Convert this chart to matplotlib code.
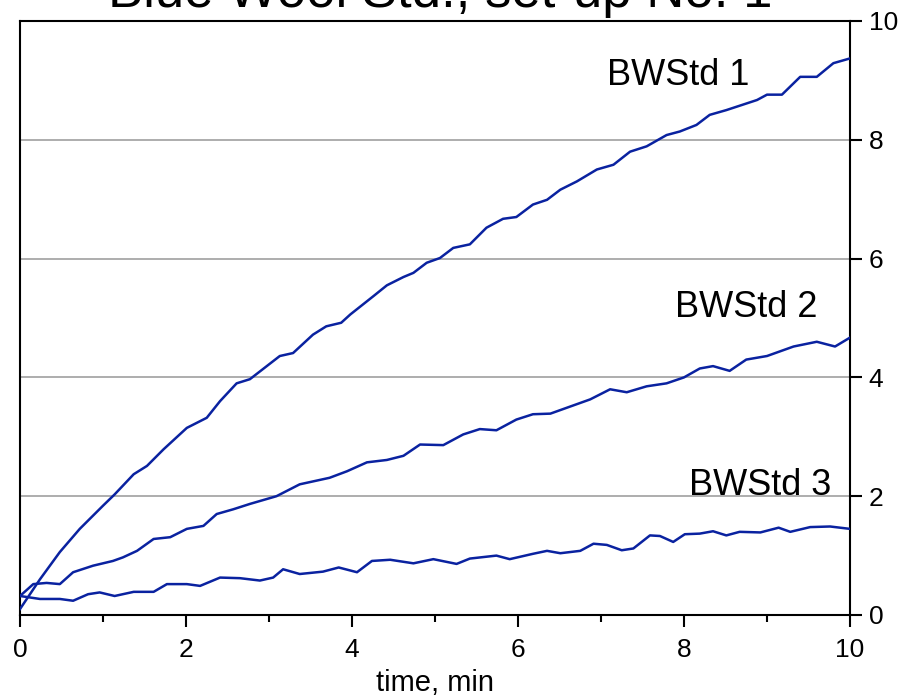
import matplotlib
matplotlib.use("Agg")
import matplotlib.pyplot as plt
from matplotlib.ticker import MultipleLocator

plt.rcParams['font.family'] = ['Liberation Sans', 'DejaVu Sans']

# data (time in min)
t1 = [0.0, 0.24, 0.48, 0.72, 1.0, 1.14, 1.37, 1.53, 1.73, 2.01, 2.25, 2.41, 2.61, 2.77,
      3.13, 3.29, 3.53, 3.69, 3.87, 3.98, 4.26, 4.42, 4.62, 4.74, 4.9, 5.06, 5.22, 5.42,
      5.62, 5.82, 5.98, 6.18, 6.35, 6.51, 6.71, 6.95, 7.15, 7.35, 7.55, 7.79, 7.95, 8.15,
      8.31, 8.51, 8.88, 9.0, 9.18, 9.4, 9.6, 9.8, 10.0]
bw1 = [0.1, 0.6, 1.06, 1.45, 1.84, 2.03, 2.37, 2.51, 2.79, 3.15, 3.32, 3.6, 3.9, 3.97,
       4.36, 4.41, 4.72, 4.86, 4.92, 5.06, 5.37, 5.55, 5.69, 5.76, 5.93, 6.01, 6.18, 6.24,
       6.52, 6.67, 6.7, 6.91, 6.99, 7.16, 7.3, 7.5, 7.58, 7.8, 7.89, 8.08, 8.14, 8.25,
       8.42, 8.5, 8.67, 8.76, 8.76, 9.06, 9.06, 9.29, 9.37]

t2 = [0.0, 0.16, 0.32, 0.48, 0.64, 0.88, 1.12, 1.24, 1.41, 1.61, 1.81, 2.01, 2.21, 2.37,
      2.57, 2.77, 3.09, 3.37, 3.73, 3.94, 4.18, 4.42, 4.62, 4.82, 5.1, 5.34, 5.54, 5.74,
      5.98, 6.18, 6.39, 6.59, 6.75, 6.87, 7.11, 7.31, 7.55, 7.79, 8.0, 8.19, 8.35, 8.55,
      8.75, 9.0, 9.32, 9.6, 9.82, 10.0]
bw2 = [0.32, 0.52, 0.54, 0.52, 0.72, 0.83, 0.91, 0.97, 1.08, 1.28, 1.31, 1.45, 1.5, 1.7,
       1.78, 1.87, 2.0, 2.2, 2.31, 2.42, 2.57, 2.61, 2.68, 2.87, 2.86, 3.04, 3.13, 3.11,
       3.29, 3.38, 3.39, 3.49, 3.57, 3.63, 3.8, 3.75, 3.85, 3.9, 4.0, 4.15, 4.19, 4.11,
       4.3, 4.36, 4.52, 4.6, 4.52, 4.67]

t3 = [0.0, 0.24, 0.48, 0.64, 0.82, 0.96, 1.14, 1.37, 1.61, 1.77, 2.01, 2.17, 2.41, 2.65,
      2.89, 3.05, 3.17, 3.37, 3.65, 3.84, 4.06, 4.24, 4.46, 4.74, 4.98, 5.26, 5.42, 5.74,
      5.9, 6.18, 6.35, 6.51, 6.75, 6.91, 7.07, 7.25, 7.39, 7.59, 7.71, 7.87, 8.01, 8.19,
      8.35, 8.51, 8.67, 8.92, 9.14, 9.28, 9.52, 9.76, 10.0]
bw3 = [0.32, 0.27, 0.27, 0.24, 0.35, 0.38, 0.32, 0.39, 0.39, 0.52, 0.52, 0.49, 0.63, 0.62,
       0.58, 0.63, 0.77, 0.69, 0.73, 0.8, 0.72, 0.91, 0.93, 0.87, 0.94, 0.86, 0.95, 1.0,
       0.94, 1.03, 1.08, 1.04, 1.08, 1.2, 1.18, 1.09, 1.12, 1.34, 1.33, 1.23, 1.36, 1.37,
       1.41, 1.34, 1.4, 1.39, 1.47, 1.4, 1.48, 1.49, 1.45]

labels = ["BWStd 1", "BWStd 2", "BWStd 3"]
label_pos = [(7.07, 8.92), (7.89, 5.01), (8.06, 2.02)]

line_color = '#0a22a0'

fig = plt.figure(figsize=(9.08, 6.99), dpi=100)
ax = fig.add_axes([20 / 908, 1 - 615 / 699, 830 / 908, 594 / 699])

for t, v in [(t1, bw1), (t2, bw2), (t3, bw3)]:
    ax.plot(t, v, color=line_color, lw=1.8, zorder=3)

for lab, (x, y) in zip(labels, label_pos):
    ax.text(x, y, lab, fontsize=26, ha='left', va='baseline', zorder=4)

ax.set_xlim(0, 10)
ax.set_ylim(0, 10)
ax.xaxis.set_major_locator(MultipleLocator(2))
ax.xaxis.set_minor_locator(MultipleLocator(1))
ax.yaxis.set_major_locator(MultipleLocator(2))

ax.yaxis.tick_right()
ax.tick_params(axis='both', which='major', direction='out', length=8.5, width=1.5,
               labelsize=19)
ax.tick_params(axis='x', which='minor', direction='out', length=5, width=1.5)
ax.tick_params(axis='x', which='major', pad=8)
ax.tick_params(axis='y', which='major', pad=5)

for s in ax.spines.values():
    s.set_linewidth(1.5)

for gy in [2, 4, 6, 8]:
    ax.axhline(gy, color='#a0a0a0', lw=1.2, zorder=1)

ax.set_xlabel("time, min", fontsize=21, labelpad=0)
ax.xaxis.set_label_coords(0.5, -(691 - 615) / 594, transform=ax.transAxes)
ax.xaxis.label.set_va('baseline')

fig.text(440 / 908, 1 - 7 / 699, "Blue Wool Std., set-up No. 1", fontsize=38,
         ha='center', va='baseline')

fig.savefig("out.png", dpi=100)
